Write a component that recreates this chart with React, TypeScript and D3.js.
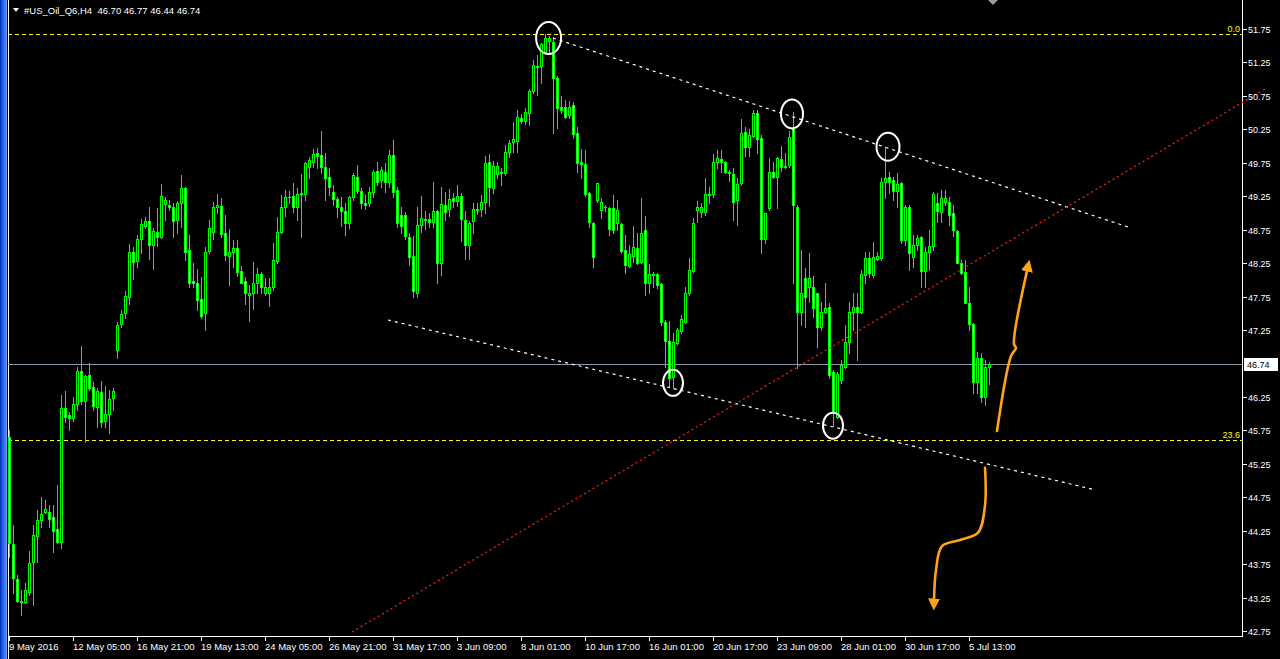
import React from 'react';
import * as d3 from 'd3';

const opens = [
45.65,44.05,43.53,43.20,43.18,43.33,43.78,44.17,44.41,44.53,
44.53,44.46,44.28,44.08,46.08,45.98,45.93,46.14,46.64,46.19,
46.58,46.40,46.10,46.32,45.89,45.99,46.23,46.95,47.34,47.50,
47.74,48.41,48.28,48.61,48.80,48.88,48.52,48.71,48.64,49.13,
49.12,49.09,48.89,49.15,49.37,48.44,47.99,47.96,47.71,47.50,
48.43,48.71,49.09,49.10,48.70,48.35,48.41,48.47,48.13,47.98,
47.78,47.81,47.95,48.08,47.81,47.81,47.89,48.28,48.71,49.09,
49.24,49.25,49.09,49.28,49.28,49.68,49.76,49.89,49.86,49.68,
49.53,49.31,49.21,49.09,49.03,48.85,49.24,49.53,49.33,49.15,
49.15,49.31,49.62,49.49,49.61,49.46,49.86,49.34,48.97,48.97,
48.64,48.35,47.81,48.82,48.91,48.91,48.86,49.03,48.25,49.12,
49.06,49.22,49.18,49.25,48.89,48.52,48.88,49.04,49.06,49.16,
49.76,49.37,49.58,49.59,49.59,49.91,50.06,50.07,50.42,50.37,
50.49,50.82,51.19,51.19,51.40,51.57,51.55,51.01,50.58,50.58,
50.46,50.61,50.19,49.76,49.73,49.30,48.85,49.19,49.05,49.09,
49.07,49.07,48.85,48.83,48.44,48.20,48.35,48.47,48.26,48.74,
47.96,48.08,48.08,47.94,47.37,47.08,46.55,47.05,47.23,47.37,
47.80,48.13,49.05,49.01,49.01,49.27,49.28,49.76,49.80,49.76,
49.61,49.58,49.19,49.45,50.21,49.98,50.15,50.49,50.12,48.61,
49.07,49.61,49.54,49.80,49.68,49.71,50.27,49.09,47.52,48.02,
47.89,47.89,47.80,47.29,47.52,47.59,46.62,45.95,46.50,46.70,
47.07,47.52,47.59,47.52,48.07,48.32,48.07,48.31,48.32,49.46,
49.53,49.49,49.33,49.45,48.59,49.09,48.34,48.52,48.64,48.13,
48.41,48.50,49.15,49.01,49.16,49.16,49.00,48.73,48.25,48.11,
47.65,47.34,46.47,46.83,46.25,46.70];

const highs = [
45.75,44.34,43.59,43.36,43.47,43.95,44.34,44.56,44.76,44.71,
44.64,44.64,44.94,46.28,46.34,46.02,46.25,46.70,47.01,46.58,
46.76,46.47,46.38,46.49,46.41,46.35,46.38,47.37,47.55,47.83,
48.53,48.49,48.67,48.91,48.94,49.09,48.77,49.07,49.43,49.24,
49.19,49.15,49.18,49.57,49.39,48.67,48.25,48.16,48.04,48.49,
48.89,49.16,49.28,49.22,48.97,48.76,48.59,48.59,48.20,48.04,
47.92,48.26,48.17,48.11,48.02,48.02,48.55,48.94,49.27,49.34,
49.33,49.45,49.37,49.58,49.76,49.83,49.95,49.97,50.22,49.89,
49.67,49.42,49.24,49.24,49.15,49.25,49.60,49.71,49.37,49.27,
49.39,49.64,49.76,49.68,49.74,49.94,50.09,49.39,49.09,49.01,
48.70,48.65,49.09,49.25,49.03,49.00,49.46,49.04,49.39,49.31,
49.36,49.30,49.42,49.30,49.03,48.88,49.15,49.15,49.27,49.85,
49.88,49.77,49.76,49.67,50.01,50.09,50.36,50.54,50.48,50.57,
50.86,51.28,51.36,51.54,51.68,51.64,51.63,51.04,50.75,50.69,
50.67,50.66,50.28,49.95,49.94,49.31,48.86,49.45,49.22,49.12,
49.09,49.27,49.19,48.85,48.67,48.52,48.80,48.70,49.22,48.95,
48.23,48.11,48.10,47.95,47.40,47.38,47.20,47.28,47.47,47.89,
48.32,48.92,49.18,49.15,49.52,49.39,49.88,49.94,49.94,49.77,
49.64,49.67,49.52,50.40,50.28,50.25,50.54,50.54,50.16,49.00,
49.82,49.76,49.83,50.00,49.89,50.22,50.51,49.12,48.44,48.17,
48.40,48.05,47.80,47.67,47.95,47.65,46.65,46.62,46.80,47.32,
47.67,47.80,47.80,48.14,48.41,48.41,48.56,48.41,49.52,49.98,
49.61,49.53,49.60,49.46,49.12,49.12,48.67,48.67,48.65,48.49,
48.74,49.31,49.30,49.34,49.34,49.24,49.12,48.74,48.29,48.29,
47.89,47.35,46.92,46.91,46.80,46.77];

const lows = [
43.86,43.32,43.18,42.99,43.17,43.29,43.14,43.78,44.31,44.52,
44.31,43.93,44.07,43.99,45.87,45.75,45.89,46.05,46.14,45.57,
46.35,46.05,45.80,45.80,45.80,45.71,46.05,46.83,47.29,47.43,
47.64,48.01,48.19,48.40,48.77,48.31,48.16,48.50,48.62,48.89,
49.04,48.64,48.70,48.79,48.29,47.89,47.89,47.55,47.43,47.25,
48.40,48.61,49.00,48.64,48.29,47.93,48.19,48.05,47.95,47.64,
47.39,47.56,47.81,47.80,47.78,47.61,47.85,48.25,48.70,48.95,
49.15,49.01,48.89,48.64,49.19,49.52,49.68,49.67,49.59,49.19,
49.27,49.12,48.94,48.80,48.67,48.77,49.19,49.30,49.07,49.06,
49.10,49.24,49.42,49.39,49.31,49.39,49.24,48.79,48.70,48.61,
48.22,47.74,47.74,48.71,48.76,48.79,48.79,47.95,48.07,48.89,
48.95,49.09,49.10,48.58,48.31,48.31,48.70,48.98,48.95,49.00,
49.10,49.30,49.52,49.42,49.56,49.83,49.91,49.91,50.34,50.33,
50.31,50.80,50.76,50.95,51.39,51.37,50.20,50.27,50.49,50.42,
50.42,50.12,49.61,49.52,49.25,48.79,48.19,49.16,48.92,49.03,
48.67,48.70,48.74,48.40,48.10,48.19,48.26,48.23,48.25,47.77,
47.81,47.89,47.88,47.32,46.70,46.40,46.38,47.04,47.20,47.35,
47.77,48.11,48.86,48.94,48.97,49.15,49.24,49.67,49.61,49.59,
49.48,48.89,48.82,49.42,49.85,49.85,50.13,49.89,48.40,48.55,
49.04,49.52,49.07,49.62,49.67,49.68,47.96,46.68,47.32,47.29,
47.67,47.44,46.99,47.25,47.50,46.53,45.82,45.93,46.46,46.68,
46.91,47.25,46.80,47.50,47.95,48.04,48.04,48.29,48.29,49.22,
49.30,49.19,49.09,48.55,48.52,48.14,48.19,48.44,47.89,47.89,
48.14,48.44,48.86,48.86,49.12,48.82,48.65,48.25,48.08,47.65,
47.25,46.31,46.31,46.17,46.13,46.44];

const closes = [
44.07,43.54,43.20,43.18,43.36,43.77,44.19,44.41,44.50,44.58,
44.43,44.25,44.08,46.08,45.95,45.93,46.14,46.64,46.19,46.56,
46.38,46.11,46.34,45.87,45.99,46.22,46.34,47.32,47.49,47.76,
48.41,48.26,48.61,48.83,48.88,48.52,48.73,48.64,49.25,49.19,
49.09,48.88,49.15,49.37,48.41,47.95,47.95,47.70,47.46,48.41,
48.77,49.09,49.12,48.68,48.37,48.41,48.47,48.11,47.96,47.81,
47.81,47.96,48.08,47.89,47.89,47.90,48.29,48.71,49.09,49.24,
49.24,49.09,49.28,49.30,49.74,49.79,49.88,49.85,49.68,49.52,
49.39,49.21,49.09,49.03,48.85,49.24,49.57,49.33,49.15,49.12,
49.31,49.61,49.47,49.64,49.46,49.86,49.31,48.85,48.80,48.65,
48.34,47.83,48.82,48.92,48.89,48.86,49.03,48.25,49.13,49.01,
49.21,49.18,49.25,48.91,48.52,48.85,49.06,49.06,49.16,49.74,
49.39,49.70,49.70,49.61,49.91,50.04,50.10,50.43,50.37,50.51,
50.82,51.21,51.18,51.52,51.61,51.61,51.01,50.57,50.54,50.43,
50.58,50.18,49.74,49.73,49.28,48.86,48.34,49.45,49.16,49.09,
48.76,48.74,49.05,48.43,48.22,48.38,48.49,48.25,48.70,47.96,
48.08,48.07,47.93,47.37,47.08,46.53,47.07,47.25,47.41,47.80,
48.14,48.85,49.09,49.09,49.28,49.28,49.76,49.82,49.76,49.61,
49.59,49.16,49.43,50.19,49.98,50.16,50.49,50.10,48.61,49.00,
49.61,49.54,49.82,49.68,49.70,50.13,49.12,47.52,47.81,47.74,
48.02,47.58,47.29,47.52,47.58,46.58,46.02,46.59,46.73,47.07,
47.52,47.59,47.52,48.08,48.32,48.10,48.34,48.35,49.46,49.52,
49.47,49.33,49.43,48.59,49.09,48.40,48.52,48.62,48.13,48.41,
48.50,49.28,49.03,49.22,49.22,48.97,48.74,48.25,48.10,47.65,
47.34,46.47,46.83,46.25,46.70,46.74];

const dateIndex = [0, 16, 32, 48, 64, 80, 96, 112, 128, 144, 160, 176, 192, 208, 224, 240];
const dateText = ['9 May 2016', '12 May 05:00', '16 May 21:00', '19 May 13:00', '24 May 05:00', '26 May 21:00',
  '31 May 17:00', '3 Jun 09:00', '8 Jun 01:00', '10 Jun 17:00', '16 Jun 01:00', '20 Jun 17:00',
  '23 Jun 09:00', '28 Jun 01:00', '30 Jun 17:00', '5 Jul 13:00'];

const priceTicks = [51.75, 51.25, 50.75, 50.25, 49.75, 49.25, 48.75, 48.25, 47.75, 47.25,
  46.25, 45.75, 45.25, 44.75, 44.25, 43.75, 43.25, 42.75];

const symbolTitle = '#US_Oil_Q6,H4';
const lastBar = [46.70, 46.77, 46.44, 46.74];
const lastPrice = 46.74;

const fibPrices = [51.675, 45.61];
const fibNames = ['0.0', '23.6'];

// trend lines: [barIndex, price]
const upperTrend = [[136, 51.615], [279.75, 48.79]];
const lowerTrend = [[94.75, 47.40], [271.5, 44.86]];
const redTrend = [[85.75, 42.735], [314, 50.853]];

// marked swing points: [barIndex, price]
const swingMarks = [[134.9, 51.615], [195.75, 50.48], [219.75, 49.99], [166, 46.46], [206, 45.82]];
const swingRadii = [[12.5, 16], [11, 14.5], [11.5, 14], [10, 13], [10, 13]];

// projected scenario paths: [barIndex, price]
const upArrow = [[247, 45.74], [250.5, 46.86], [251.75, 46.98], [251.25, 47.04], [254.6, 48.16]];
const downArrow = [[244, 45.19], [244, 44.63], [242.25, 44.22], [237.75, 44.11], [233.25, 44.02], [231.75, 43.66], [231.25, 43.20]];

const W = 1280;
const H = 659;
const PLOT_L = 8;
const PLOT_R = 1242;
const PLOT_B = 636;
const GREEN = '#00ff00';
const ORANGE = '#ffa21c';
const FONT = '"Liberation Sans", Arial, sans-serif';

export default function App() {
  const x = d3.scaleLinear().domain([0, 245]).range([9, 989]);
  const y = d3.scaleLinear().domain([42.75, 51.75]).range([631, 29]);

  const line = d3.line<number[]>().x(d => x(d[0])).y(d => y(d[1]));
  const curve = d3.line<number[]>().x(d => x(d[0])).y(d => y(d[1])).curve(d3.curveCatmullRom.alpha(0.5));

  const candles = opens.map((o, i) => {
    const c = closes[i];
    const cx = Math.round(x(i));
    const yo = Math.round(y(o));
    const yc = Math.round(y(c));
    const yh = Math.round(y(highs[i]));
    const yl = Math.round(y(lows[i]));
    const top = Math.min(yo, yc);
    const bot = Math.max(yo, yc);
    const bull = c >= o;
    return (
      <g key={i}>
        <line x1={cx + 0.5} x2={cx + 0.5} y1={yh} y2={yl + 1} stroke={GREEN} strokeWidth={1} />
        {bot - top < 1 ? (
          <line x1={cx - 1} x2={cx + 2} y1={top + 0.5} y2={top + 0.5} stroke={GREEN} strokeWidth={1} />
        ) : (
          <rect x={cx - 0.5} y={top + 0.5} width={2} height={bot - top} fill={bull ? '#000000' : '#ffffff'} stroke={GREEN} strokeWidth={1} />
        )}
      </g>
    );
  });

  const yLast = Math.round(y(lastPrice));

  return (
    <svg width={W} height={H} style={{ position: 'absolute', left: 0, top: 0, background: '#000' }} fontFamily={FONT}>
      <defs>
        <linearGradient id="frame" x1="0" x2="1" y1="0" y2="0">
          <stop offset="0" stopColor="#0a2fa8" />
          <stop offset="0.35" stopColor="#1f5cf0" />
          <stop offset="0.7" stopColor="#3b7cf5" />
          <stop offset="1" stopColor="#6d9af0" />
        </linearGradient>
        <clipPath id="plot">
          <rect x={PLOT_L} y={0} width={PLOT_R - PLOT_L} height={PLOT_B} />
        </clipPath>
        <marker id="ah" viewBox="0 0 10 10" refX="2" refY="5" markerWidth="12" markerHeight="12" markerUnits="userSpaceOnUse" orient="auto">
          <path d="M0,0 L10,5 L0,10 Z" fill={ORANGE} />
        </marker>
      </defs>
      <rect x={0} y={0} width={W} height={H} fill="#000" />
      <rect x={0} y={0} width={7} height={H} fill="url(#frame)" />
      <line x1={8.5} x2={8.5} y1={0} y2={H} stroke="#ffffff" />

      {/* axes frame */}
      <line x1={PLOT_R + 0.5} x2={PLOT_R + 0.5} y1={0} y2={PLOT_B + 1} stroke="#ffffff" />
      <line x1={PLOT_L} x2={PLOT_R + 1} y1={PLOT_B + 0.5} y2={PLOT_B + 0.5} stroke="#ffffff" />

      <g clipPath="url(#plot)">
        {/* fib levels */}
        {fibPrices.map((p, k) => (
          <line key={k} x1={PLOT_L} x2={PLOT_R} y1={Math.round(y(p)) + 0.5} y2={Math.round(y(p)) + 0.5}
            stroke="#ffff00" strokeDasharray="4,3" />
        ))}
        {/* last price line */}
        <line x1={PLOT_L} x2={PLOT_R} y1={yLast + 0.5} y2={yLast + 0.5} stroke="#8a98a8" />
        <g shapeRendering="crispEdges">{candles}</g>
        {/* trend lines */}
        <path d={line(upperTrend) || ''} stroke="#ffffff" strokeWidth={1.2} strokeDasharray="3,4" fill="none" />
        <path d={line(lowerTrend) || ''} stroke="#ffffff" strokeWidth={1.2} strokeDasharray="3,4" fill="none" />
        {swingMarks.map((m, k) => (
          <ellipse key={k} cx={x(m[0])} cy={y(m[1])} rx={swingRadii[k][0]} ry={swingRadii[k][1]}
            fill="none" stroke="#ffffff" strokeWidth={2} />
        ))}
      </g>
      <path d={line(redTrend) || ''} stroke="#ff2020" strokeWidth={1.2} strokeDasharray="2,3" fill="none" />

      {/* scenario arrows */}
      <path d={curve(upArrow) || ''} stroke={ORANGE} strokeWidth={2.6} fill="none" strokeLinecap="round" markerEnd="url(#ah)" />
      <path d={curve(downArrow) || ''} stroke={ORANGE} strokeWidth={2.6} fill="none" strokeLinecap="round" markerEnd="url(#ah)" />

      {/* fib labels */}
      {fibPrices.map((p, k) => (
        <text key={k} x={PLOT_R - 2} y={Math.round(y(p)) - 2} fill="#ffff00" fontSize={9} textAnchor="end">{fibNames[k]}</text>
      ))}

      {/* price axis */}
      {priceTicks.map((p, k) => {
        const yy = Math.round(y(p));
        return (
          <g key={k}>
            <line x1={PLOT_R + 1} x2={PLOT_R + 5} y1={yy + 0.5} y2={yy + 0.5} stroke="#ffffff" />
            <text x={PLOT_R + 6} y={yy + 3.5} fill="#ffffff" fontSize={9}>{p.toFixed(2)}</text>
          </g>
        );
      })}
      <rect x={PLOT_R + 2} y={yLast - 6} width={34} height={13} fill="#ffffff" />
      <text x={PLOT_R + 5} y={yLast + 3.5} fill="#000000" fontSize={9}>{lastPrice.toFixed(2)}</text>

      {/* time axis */}
      {dateIndex.map((i, k) => {
        const xx = Math.round(x(i));
        return (
          <g key={k}>
            <line x1={xx + 0.5} x2={xx + 0.5} y1={PLOT_B + 1} y2={PLOT_B + 5} stroke="#ffffff" />
            <text x={xx} y={650} fill="#ffffff" fontSize={9.5}>{dateText[k]}</text>
          </g>
        );
      })}

      {/* header */}
      <polygon points="13,8 19,8 16,12" fill="#ffffff" />
      <text x={24} y={14} fill="#ffffff" fontSize={9.5} style={{ whiteSpace: 'pre' }}>
        {symbolTitle + '  ' + lastBar.map(v => v.toFixed(2)).join(' ')}
      </text>
      <polygon points="988,0 998,0 993,5" fill="#9a9a9a" />
    </svg>
  );
}
